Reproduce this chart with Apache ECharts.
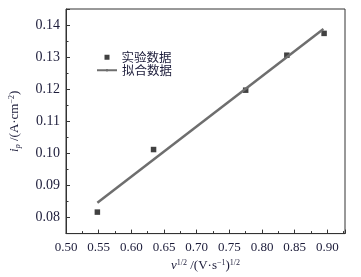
<!DOCTYPE html>
<html>
<head>
<meta charset="utf-8">
<script src="https://cdn.jsdelivr.net/npm/echarts@6/dist/echarts.min.js"></script>
<style>
html, body { margin: 0; padding: 0; background: #fff; }
#chart { width: 361px; height: 277px; }
</style>
</head>
<body>
<div id="chart"></div>
<script>
// 实验数据 (v^1/2, ip)
var sqrtV = [0.548, 0.634, 0.775, 0.838, 0.895];
var ipExp = [0.0817, 0.1012, 0.1197, 0.1306, 0.1374];
// 拟合直线两端点
var fitX = [0.548, 0.894];
var fitY = [0.0846, 0.1388];

var expData = [];
for (var i = 0; i < sqrtV.length; i++) {
	expData.push([sqrtV[i], ipExp[i]]);
}
var fitData = [];
for (var j = 0; j < fitX.length; j++) {
	fitData.push([fitX[j], fitY[j]]);
}

var txtColor = '#1c1c3a';
var serif = 'Liberation Serif';

var chart = echarts.init(document.getElementById('chart'));
var option = {
	animation: false,
	grid: {
		left: 63,
		right: 16,
		top: 9,
		bottom: 42,
		show: true,
		borderColor: '#333',
		borderWidth: 1
	},
	legend: [{
		data: [{ name: '实验数据', icon: 'rect' }],
		left: 104.5,
		top: 51,
		padding: 0,
		itemWidth: 5,
		itemHeight: 5,
		textStyle: { fontFamily: 'Noto Sans CJK SC', fontSize: 12.5, color: txtColor, padding: [0, 0, 0, 7] }
	}, {
		data: [{ name: '拟合数据' }],
		left: 96,
		top: 64,
		padding: 0,
		itemWidth: 20,
		itemHeight: 3,
		textStyle: { fontFamily: 'Noto Sans CJK SC', fontSize: 12.5, color: txtColor }
	}],
	xAxis: {
		type: 'value',
		min: 0.5,
		max: 0.927,
		splitNumber: 8,
		name: '{it|v}{sup|1/2} /(V·s{sup|−1}){sup|1/2}',
		nameLocation: 'middle',
		nameGap: 23,
		nameTextStyle: {
			fontFamily: serif, fontSize: 13, color: txtColor,
			rich: {
				it: { fontFamily: serif, fontStyle: 'italic', fontSize: 13, color: txtColor },
				sup: { fontFamily: serif, fontSize: 8, color: txtColor, verticalAlign: 'top', padding: [0, 0, 6, 0] }
			}
		},
		axisLine: { lineStyle: { color: '#333' } },
		axisTick: { inside: true, length: 4, lineStyle: { color: '#333' } },
		minorTick: { show: true, splitNumber: 2, length: 2.5, lineStyle: { color: '#333' } },
		splitLine: { show: false },
		axisLabel: {
			fontFamily: serif, fontSize: 13, color: txtColor, margin: 7,
			showMaxLabel: false,
			formatter: function(v) { return v.toFixed(2); }
		}
	},
	yAxis: {
		type: 'value',
		min: 0.075,
		max: 0.145,
		splitNumber: 7,
		name: '{it|i}{sub|p} /(A·cm{sup|−2})',
		nameLocation: 'middle',
		nameGap: 44,
		nameTextStyle: {
			fontFamily: serif, fontSize: 13, color: txtColor,
			rich: {
				it: { fontFamily: serif, fontStyle: 'italic', fontSize: 13, color: txtColor },
				sub: { fontFamily: serif, fontStyle: 'italic', fontSize: 8, color: txtColor, verticalAlign: 'bottom' },
				sup: { fontFamily: serif, fontSize: 8, color: txtColor, verticalAlign: 'top', padding: [0, 0, 6, 0] }
			}
		},
		axisLine: { lineStyle: { color: '#333' } },
		axisTick: { inside: true, length: 4, lineStyle: { color: '#333' } },
		minorTick: { show: true, splitNumber: 2, length: 2.5, lineStyle: { color: '#333' } },
		splitLine: { show: false },
		axisLabel: {
			fontFamily: serif, fontSize: 14, color: txtColor, margin: 6,
			showMinLabel: false,
			showMaxLabel: false,
			formatter: function(v) { return v.toFixed(2); }
		}
	},
	series: [{
		name: '实验数据',
		type: 'scatter',
		symbol: 'rect',
		symbolSize: 5.5,
		itemStyle: { color: '#111' },
		data: expData
	}, {
		name: '拟合数据',
		type: 'line',
		showSymbol: false,
		symbol: 'none',
		itemStyle: { color: '#6e6e6e' },
		lineStyle: { color: '#6e6e6e', width: 2.5 },
		data: fitData
	}]
};
chart.setOption(option);
</script>
</body>
</html>
